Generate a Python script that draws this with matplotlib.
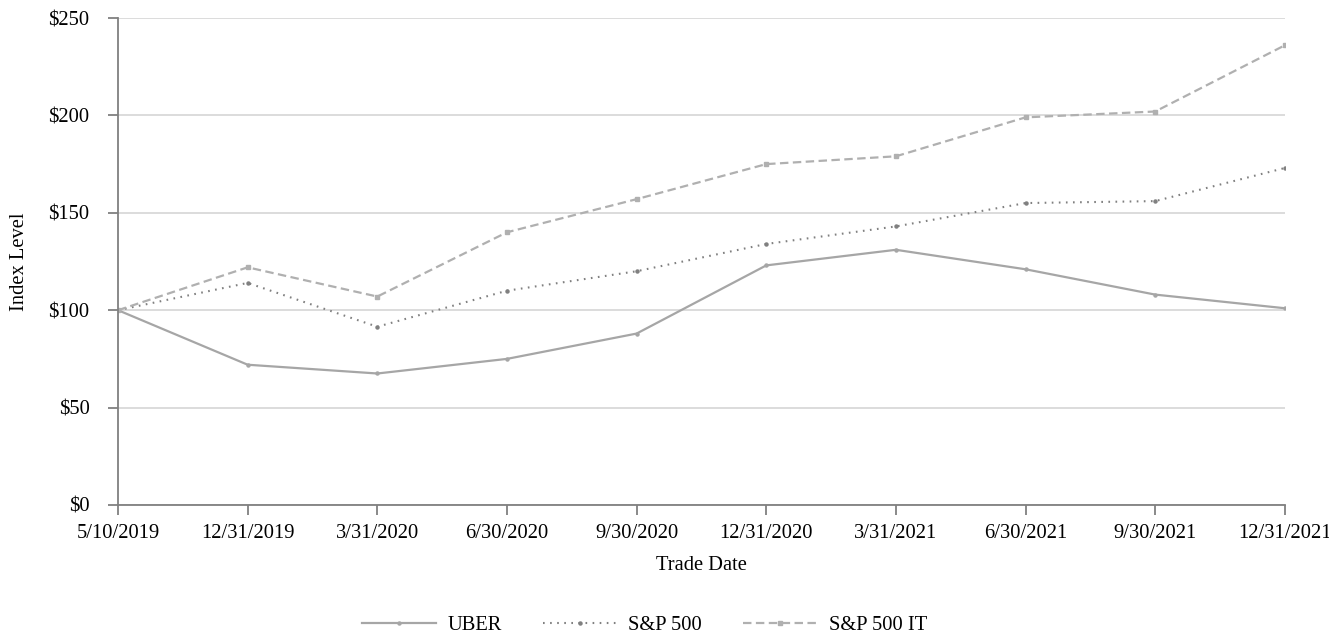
import matplotlib as mpl
import matplotlib.pyplot as plt

mpl.rcParams['font.family'] = ['Liberation Serif', 'DejaVu Serif']
mpl.rcParams['font.size'] = 14.8

dates = ['5/10/2019', '12/31/2019', '3/31/2020', '6/30/2020', '9/30/2020',
         '12/31/2020', '3/31/2021', '6/30/2021', '9/30/2021', '12/31/2021']
uber = [100, 72, 67.5, 75, 88, 123, 131, 121, 108, 101]
sp500 = [100, 114, 91.5, 110, 120, 134, 143, 155, 156, 173]
sp500_it = [100, 122, 107, 140, 157, 175, 179, 199, 202, 236]
yticks = [0, 50, 100, 150, 200, 250]

fig = plt.figure(figsize=(13.29, 6.34), dpi=100)
ax = fig.add_axes([0.0888, 0.2035, 0.8780, 0.7681])

x = list(range(len(dates)))
ax.plot(x, uber, color='#a6a6a6', lw=1.6, ls='-', marker='o', ms=2.2, label='UBER')
ax.plot(x, sp500, color='#808080', lw=1.5, ls=(0, (0.8, 2.6)), marker='o', ms=2.2, label='S&P 500')
ax.plot(x, sp500_it, color='#b0b0b0', lw=1.6, ls=(0, (3.8, 2.0)), marker='s', ms=2.2, label='S&P 500 IT')

ax.set_xlim(0, len(dates) - 1)
ax.set_ylim(0, 250)
ax.set_xticks(x)
ax.set_xticklabels(dates)
ax.set_yticks(yticks)
ax.set_yticklabels(['$' + str(v) for v in yticks])
ax.yaxis.grid(True, color='#dcdcdc', lw=1.4)
ax.set_axisbelow(True)

for s in ['top', 'right']:
    ax.spines[s].set_visible(False)
for s in ['left', 'bottom']:
    ax.spines[s].set_color('#808080')
    ax.spines[s].set_linewidth(1.3)
ax.tick_params(axis='both', colors='#808080', labelcolor='black', width=1.3, length=7)
ax.tick_params(axis='y', pad=13.5)
ax.tick_params(axis='x', direction='out', length=7.5, pad=6.5)

ax.set_xlabel('Trade Date', labelpad=9)
ax.set_ylabel('Index Level', labelpad=14)

fig.legend(loc='center', bbox_to_anchor=(0.485, 0.013), ncol=3, frameon=False,
           handlelength=3.6, columnspacing=2.0, handletextpad=0.55)

plt.savefig('out.png', dpi=100)
